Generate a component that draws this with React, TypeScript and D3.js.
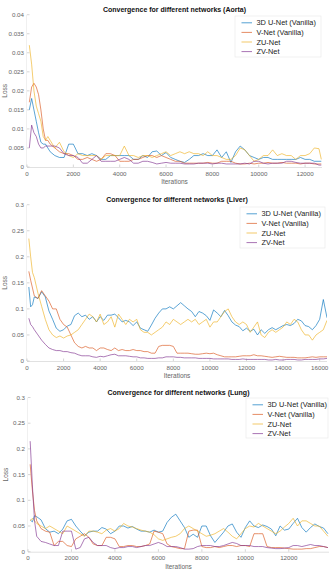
import * as d3 from 'd3'

// Training loss curves, three stacked panels (Aorta / Liver / Lung)

const NAMES = ['3D U-Net (Vanilla)', 'V-Net (Vanilla)', 'ZU-Net', 'ZV-Net']
const COLORS = ['#0072BD', '#D95319', '#EDB120', '#7E2F8E']

// ---- Aorta ----
const aortaIters = [100, 200, 300, 400, 500, 600, 700, 800, 900, 1000,
  1200, 1400, 1600, 1800, 2000, 2200, 2400, 2600, 2800, 3000,
  3200, 3400, 3600, 3800, 4000, 4200, 4400, 4600, 4800, 5000,
  5200, 5400, 5600, 5800, 6000, 6200, 6400, 6600, 6800, 7000,
  7200, 7400, 7600, 7800, 8000, 8200, 8400, 8600, 8800, 9000,
  9200, 9400, 9600, 9800, 10000, 10200, 10400, 10600, 10800, 11000,
  11200, 11400, 11600, 11800, 12000, 12200, 12400, 12600, 12700]
const aortaUNet = [0.015, 0.018, 0.015, 0.012, 0.009, 0.0065, 0.006, 0.006, 0.005, 0.004,
  0.003, 0.0025, 0.0025, 0.006, 0.006, 0.0035, 0.0035, 0.003, 0.0035, 0.003,
  0.002, 0.002, 0.003, 0.003, 0.003, 0.003, 0.003, 0.002, 0.002, 0.003,
  0.0025, 0.004, 0.0042, 0.003, 0.0038, 0.0025, 0.002, 0.0015, 0.0012, 0.002,
  0.003, 0.003, 0.0035, 0.003, 0.003, 0.0045, 0.0025, 0.004, 0.0012, 0.004,
  0.0055, 0.0045, 0.003, 0.0025, 0.002, 0.0025, 0.0025, 0.002, 0.002, 0.002,
  0.002, 0.002, 0.002, 0.0025, 0.002, 0.002, 0.0015, 0.0015, 0.0015]
const aortaVNet = [0.017, 0.021, 0.022, 0.021, 0.019, 0.015, 0.01, 0.007, 0.007, 0.006,
  0.005, 0.004, 0.0035, 0.0035, 0.003, 0.002, 0.002, 0.0025, 0.002, 0.0015,
  0.002, 0.0035, 0.0035, 0.003, 0.0015, 0.0015, 0.0015, 0.002, 0.002, 0.0025,
  0.003, 0.003, 0.0025, 0.003, 0.0025, 0.002, 0.0015, 0.0015, 0.001, 0.001,
  0.001, 0.001, 0.001, 0.0012, 0.001, 0.001, 0.0015, 0.0015, 0.0015, 0.001,
  0.0008, 0.0008, 0.001, 0.0008, 0.001, 0.001, 0.0012, 0.001, 0.001, 0.0012,
  0.001, 0.001, 0.001, 0.0008, 0.001, 0.001, 0.0008, 0.0008, 0.0008]
const aortaZU = [0.032, 0.027, 0.02, 0.016, 0.014, 0.012, 0.008, 0.007, 0.008, 0.007,
  0.005, 0.0065, 0.004, 0.003, 0.0025, 0.0035, 0.003, 0.003, 0.003, 0.003,
  0.002, 0.003, 0.003, 0.003, 0.003, 0.0055, 0.003, 0.003, 0.0025, 0.003,
  0.003, 0.0025, 0.003, 0.0035, 0.004, 0.003, 0.0035, 0.004, 0.0035, 0.004,
  0.0035, 0.0035, 0.003, 0.004, 0.003, 0.003, 0.0025, 0.002, 0.002, 0.003,
  0.005, 0.0045, 0.003, 0.0015, 0.002, 0.003, 0.003, 0.0045, 0.003, 0.0035,
  0.003, 0.003, 0.002, 0.003, 0.003, 0.0035, 0.005, 0.0048, 0.002]
const aortaZV = [0.005, 0.011, 0.009, 0.008, 0.006, 0.005, 0.005, 0.0055, 0.0055, 0.0055,
  0.0055, 0.005, 0.0035, 0.003, 0.003, 0.0025, 0.001, 0.001, 0.002, 0.003,
  0.0015, 0.0015, 0.0015, 0.0015, 0.002, 0.0025, 0.002, 0.001, 0.001, 0.0015,
  0.0015, 0.0012, 0.0008, 0.001, 0.0012, 0.001, 0.001, 0.001, 0.0008, 0.0008,
  0.0008, 0.001, 0.001, 0.001, 0.0008, 0.001, 0.001, 0.0008, 0.0008, 0.0008,
  0.0008, 0.001, 0.0008, 0.0015, 0.0015, 0.001, 0.0008, 0.001, 0.001, 0.001,
  0.0015, 0.0015, 0.0012, 0.001, 0.001, 0.001, 0.001, 0.0005, 0.0005]
const aortaYTicks = [0, 0.005, 0.01, 0.015, 0.02, 0.025, 0.03, 0.035, 0.04]
const aortaXTicks = [0, 2000, 4000, 6000, 8000, 10000, 12000]

// ---- Liver ----
const liverIters = [100, 200, 300, 400,
  600, 800, 1000, 1200, 1400, 1600, 1800, 2000, 2200, 2400,
  2600, 2800, 3000, 3200, 3400, 3600, 3800, 4000, 4200, 4400,
  4600, 4800, 5000, 5200, 5400, 5600, 5800, 6000, 6200, 6400,
  6600, 6800, 7000, 7200, 7400, 7600, 7800, 8000, 8200, 8400,
  8600, 8800, 9000, 9200, 9400, 9600, 9800, 10000, 10200, 10400,
  10600, 10800, 11000, 11200, 11400, 11600, 11800, 12000, 12200, 12400,
  12600, 12800, 13000, 13200, 13400, 13600, 13800, 14000, 14200, 14400,
  14600, 14800, 15000, 15200, 15400, 15600, 15800, 16000, 16200, 16400]
const liverUNet = [0.142, 0.104, 0.108, 0.123,
  0.12, 0.133, 0.123, 0.096, 0.08, 0.063, 0.057, 0.06, 0.067, 0.07,
  0.087, 0.092, 0.085, 0.088, 0.08, 0.085, 0.075, 0.085, 0.078, 0.088,
  0.088, 0.09, 0.083, 0.075, 0.078, 0.075, 0.068, 0.075, 0.063, 0.06,
  0.057, 0.069, 0.082, 0.092, 0.1, 0.1, 0.104, 0.1, 0.106, 0.112,
  0.106, 0.1, 0.095, 0.085, 0.095, 0.092, 0.087, 0.078, 0.098, 0.092,
  0.085, 0.097, 0.087, 0.075, 0.069, 0.066, 0.058, 0.063, 0.057, 0.061,
  0.05, 0.06, 0.053, 0.06, 0.064, 0.06, 0.064, 0.068, 0.07, 0.068,
  0.072, 0.08, 0.077, 0.068, 0.066, 0.06, 0.068, 0.08, 0.118, 0.083]
const liverVNet = [0.172, 0.155, 0.14, 0.125,
  0.12, 0.135, 0.125, 0.115, 0.1, 0.1, 0.08, 0.07, 0.065, 0.05,
  0.035, 0.028, 0.025, 0.028, 0.025, 0.025, 0.02, 0.025, 0.025, 0.022,
  0.02, 0.025, 0.02, 0.022, 0.02, 0.02, 0.022, 0.02, 0.02, 0.018,
  0.018, 0.015, 0.015, 0.028, 0.03, 0.03, 0.03, 0.028, 0.015, 0.015,
  0.015, 0.015, 0.014, 0.013, 0.013, 0.014, 0.015, 0.014, 0.015, 0.012,
  0.01, 0.008, 0.008, 0.008, 0.008, 0.009, 0.01, 0.01, 0.01, 0.012,
  0.01, 0.01, 0.009, 0.008, 0.007, 0.008, 0.009, 0.008, 0.007, 0.007,
  0.007, 0.006, 0.006, 0.006, 0.007, 0.008, 0.007, 0.008, 0.008, 0.008]
const liverZU = [0.235, 0.2, 0.17, 0.16,
  0.13, 0.105, 0.08, 0.06, 0.05, 0.045, 0.048, 0.044, 0.048, 0.05,
  0.055, 0.06, 0.07, 0.08, 0.09, 0.085, 0.075, 0.09, 0.07, 0.075,
  0.085, 0.065, 0.09, 0.08, 0.07, 0.08, 0.075, 0.08, 0.06, 0.055,
  0.055, 0.05, 0.055, 0.06, 0.065, 0.075, 0.07, 0.08, 0.075, 0.07,
  0.075, 0.08, 0.075, 0.08, 0.07, 0.075, 0.08, 0.065, 0.075, 0.075,
  0.085, 0.095, 0.1, 0.085, 0.075, 0.07, 0.075, 0.07, 0.055, 0.065,
  0.075, 0.05, 0.045, 0.055, 0.06, 0.055, 0.06, 0.065, 0.075, 0.07,
  0.08, 0.075, 0.06, 0.05, 0.05, 0.04, 0.05, 0.055, 0.06, 0.078]
const liverZV = [0.082, 0.07, 0.066, 0.06,
  0.05, 0.04, 0.032, 0.025, 0.022, 0.02, 0.02, 0.018, 0.018, 0.016,
  0.015, 0.012, 0.01, 0.01, 0.01, 0.008, 0.007, 0.009, 0.008, 0.01,
  0.012, 0.013, 0.01, 0.01, 0.01, 0.009, 0.008, 0.008, 0.006, 0.006,
  0.005, 0.005, 0.005, 0.006, 0.006, 0.008, 0.008, 0.008, 0.007, 0.007,
  0.006, 0.006, 0.006, 0.006, 0.005, 0.005, 0.005, 0.005, 0.004, 0.004,
  0.004, 0.004, 0.004, 0.003, 0.003, 0.003, 0.004, 0.003, 0.003, 0.003,
  0.003, 0.003, 0.003, 0.002, 0.002, 0.003, 0.002, 0.002, 0.003, 0.003,
  0.003, 0.002, 0.002, 0.003, 0.003, 0.003, 0.003, 0.004, 0.004, 0.005]
const liverYTicks = [0, 0.05, 0.1, 0.15, 0.2, 0.25, 0.3]
const liverXTicks = [0, 2000, 4000, 6000, 8000, 10000, 12000, 14000, 16000]

// ---- Lung ----
const lungIters = [100, 200, 300, 400,
  600, 800, 1000, 1200, 1400, 1600, 1800, 2000, 2200, 2400,
  2600, 2800, 3000, 3200, 3400, 3600, 3800, 4000, 4200, 4400,
  4600, 4800, 5000, 5200, 5400, 5600, 5800, 6000, 6200, 6400,
  6600, 6800, 7000, 7200, 7400, 7600, 7800, 8000, 8200, 8400,
  8600, 8800, 9000, 9200, 9400, 9600, 9800, 10000, 10200, 10400,
  10600, 10800, 11000, 11200, 11400, 11600, 11800, 12000, 12200, 12400,
  12600, 12800, 13000, 13200, 13400, 13600, 13800]
const lungUNet = [0.062, 0.058, 0.07, 0.068,
  0.062, 0.045, 0.038, 0.04, 0.035, 0.044, 0.06, 0.063, 0.05, 0.04,
  0.031, 0.038, 0.04, 0.04, 0.047, 0.044, 0.035, 0.04, 0.05, 0.05,
  0.046, 0.049, 0.044, 0.04, 0.04, 0.038, 0.042, 0.038, 0.04, 0.057,
  0.067, 0.073, 0.06, 0.047, 0.028, 0.034, 0.028, 0.05, 0.05, 0.031,
  0.018, 0.028, 0.038, 0.05, 0.054, 0.038, 0.028, 0.047, 0.06, 0.05,
  0.047, 0.052, 0.049, 0.044, 0.031, 0.05, 0.042, 0.044, 0.055, 0.065,
  0.047, 0.038, 0.047, 0.054, 0.049, 0.046, 0.035]
const lungVNet = [0.17, 0.12, 0.08, 0.06,
  0.045, 0.04, 0.038, 0.012, 0.02, 0.02, 0.012, 0.01, 0.025, 0.03,
  0.035, 0.028, 0.015, 0.012, 0.012, 0.028, 0.028, 0.025, 0.01, 0.01,
  0.012, 0.012, 0.01, 0.01, 0.012, 0.015, 0.04, 0.038, 0.035, 0.015,
  0.01, 0.008, 0.006, 0.006, 0.04, 0.042, 0.042, 0.01, 0.008, 0.008,
  0.01, 0.008, 0.01, 0.012, 0.012, 0.01, 0.012, 0.012, 0.01, 0.035,
  0.035, 0.035, 0.01, 0.008, 0.008, 0.008, 0.007, 0.006, 0.005, 0.005,
  0.005, 0.006, 0.006, 0.008, 0.01, 0.01, 0.008]
const lungZU = [0.06, 0.065, 0.06, 0.055,
  0.05, 0.045, 0.05, 0.045, 0.04, 0.035, 0.05, 0.045, 0.04, 0.035,
  0.03, 0.04, 0.04, 0.038, 0.035, 0.042, 0.045, 0.04, 0.045, 0.055,
  0.05, 0.048, 0.045, 0.042, 0.04, 0.038, 0.033, 0.025, 0.022, 0.025,
  0.028, 0.03, 0.035, 0.045, 0.05, 0.045, 0.04, 0.035, 0.03, 0.032,
  0.035, 0.04, 0.045, 0.038, 0.03, 0.025, 0.035, 0.045, 0.05, 0.048,
  0.055, 0.05, 0.045, 0.04, 0.035, 0.04, 0.048, 0.055, 0.065, 0.05,
  0.06, 0.06, 0.055, 0.05, 0.05, 0.04, 0.03]
const lungZV = [0.215, 0.13, 0.06, 0.03,
  0.02, 0.018, 0.015, 0.012, 0.012, 0.04, 0.04, 0.04, 0.005, 0.008,
  0.025, 0.028, 0.018, 0.012, 0.012, 0.012, 0.008, 0.006, 0.008, 0.008,
  0.01, 0.01, 0.008, 0.01, 0.012, 0.012, 0.015, 0.018, 0.015, 0.01,
  0.01, 0.01, 0.008, 0.005, 0.005, 0.006, 0.01, 0.012, 0.012, 0.012,
  0.01, 0.01, 0.012, 0.015, 0.018, 0.016, 0.012, 0.012, 0.012, 0.01,
  0.01, 0.01, 0.008, 0.007, 0.006, 0.006, 0.007, 0.008, 0.012, 0.012,
  0.01, 0.012, 0.014, 0.012, 0.012, 0.01, 0.008]
const lungYTicks = [0, 0.05, 0.1, 0.15, 0.2, 0.25, 0.3]
const lungXTicks = [0, 2000, 4000, 6000, 8000, 10000, 12000]

const FONT = '"Liberation Sans", Arial, Helvetica, sans-serif'
const fmt = d3.format('~g')

type PanelCfg = {
  id: string
  title: string
  iters: number[]
  series: number[][]
  xMax: number
  yMax: number
  xTicks: number[]
  yTicks: number[]
  left: number
  right: number
  top: number
  bottom: number
  legend: { x: number; y: number; w: number; h: number }
}

const panels: PanelCfg[] = [
  {
    id: 'aorta', title: 'Convergence for different networks (Aorta)',
    iters: aortaIters, series: [aortaUNet, aortaVNet, aortaZU, aortaZV],
    xMax: 12730, yMax: 0.04, xTicks: aortaXTicks, yTicks: aortaYTicks,
    left: 27, right: 322, top: 14.7, bottom: 167,
    legend: { x: 235, y: 16, w: 86, h: 41 },
  },
  {
    id: 'liver', title: 'Convergence for different networks (Liver)',
    iters: liverIters, series: [liverUNet, liverVNet, liverZU, liverZV],
    xMax: 16400, yMax: 0.3, xTicks: liverXTicks, yTicks: liverYTicks,
    left: 27, right: 327, top: 204.7, bottom: 361,
    legend: { x: 240, y: 207, w: 85, h: 41 },
  },
  {
    id: 'lung', title: 'Convergence for different networks (Lung)',
    iters: lungIters, series: [lungUNet, lungVNet, lungZU, lungZV],
    xMax: 13850, yMax: 0.3, xTicks: lungXTicks, yTicks: lungYTicks,
    left: 28, right: 329, top: 397.5, bottom: 551.7,
    legend: { x: 246, y: 398, w: 82, h: 40 },
  },
]

function Panel({ p }: { p: PanelCfg }) {
  const x = d3.scaleLinear().domain([0, p.xMax]).range([p.left, p.right])
  const y = d3.scaleLinear().domain([0, p.yMax]).range([p.bottom, p.top])
  const line = d3.line<number>()
    .x((_, i) => x(p.iters[i]))
    .y(d => y(d))
  const cx = (p.left + p.right) / 2
  const lg = p.legend

  return (
    <g>
      <defs>
        <clipPath id={`clip-${p.id}`}>
          <rect x={p.left} y={p.top - 2} width={p.right - p.left} height={p.bottom - p.top + 2} />
        </clipPath>
      </defs>

      <text x={cx} y={p.top - 3} textAnchor="middle" fontSize={7} fontWeight="bold" fill="#111">
        {p.title}
      </text>

      {/* axes */}
      <line x1={p.left} x2={p.right} y1={p.bottom + 0.5} y2={p.bottom + 0.5} stroke="#d9d9d9" strokeWidth={0.8} />
      <line x1={p.left - 0.5} x2={p.left - 0.5} y1={p.top} y2={p.bottom} stroke="#e6e6e6" strokeWidth={0.6} />

      {p.yTicks.map(t => (
        <g key={t}>
          <line x1={p.left} x2={p.left + 2.5} y1={y(t)} y2={y(t)} stroke="#bbb" strokeWidth={0.6} />
          <text x={p.left - 3} y={y(t)} dy="0.35em" textAnchor="end" fontSize={6.2} fill="#666">
            {fmt(t)}
          </text>
        </g>
      ))}
      {p.xTicks.map(t => (
        <g key={t}>
          <line x1={x(t)} x2={x(t)} y1={p.bottom} y2={p.bottom - 2.5} stroke="#bbb" strokeWidth={0.6} />
          <text x={x(t)} y={p.bottom + 8.5} textAnchor="middle" fontSize={6.2} fill="#666">
            {t}
          </text>
        </g>
      ))}

      <text x={cx} y={p.bottom + 17} textAnchor="middle" fontSize={6.5} fill="#666">Iterations</text>
      <text
        transform={`translate(${p.left - 20},${(p.top + p.bottom) / 2}) rotate(-90)`}
        textAnchor="middle" fontSize={6.5} fill="#666"
      >
        Loss
      </text>

      {/* curves */}
      <g clipPath={`url(#clip-${p.id})`}>
        {p.series.map((s, i) => (
          <path key={i} d={line(s) ?? ''} fill="none" stroke={COLORS[i]}
            strokeWidth={0.75} strokeOpacity={0.85} strokeLinejoin="round" />
        ))}
      </g>

      {/* legend */}
      <rect x={lg.x} y={lg.y} width={lg.w} height={lg.h} fill="white" stroke="#e8e8e8" strokeWidth={0.6} />
      {NAMES.map((n, i) => {
        const ry = lg.y + 6.8 + i * 9.6
        return (
          <g key={n}>
            <line x1={lg.x + 6.5} x2={lg.x + 17} y1={ry} y2={ry} stroke={COLORS[i]} strokeWidth={0.8} strokeOpacity={0.85} />
            <text x={lg.x + 21.5} y={ry} dy="0.35em" fontSize={7.4} fill="#222">{n}</text>
          </g>
        )
      })}
    </g>
  )
}

export default function App() {
  return (
    <svg width={332} height={573} style={{ position: 'absolute', left: 0, top: 0, background: 'white' }}
      fontFamily={FONT}>
      {panels.map(p => <Panel key={p.id} p={p} />)}
    </svg>
  )
}
